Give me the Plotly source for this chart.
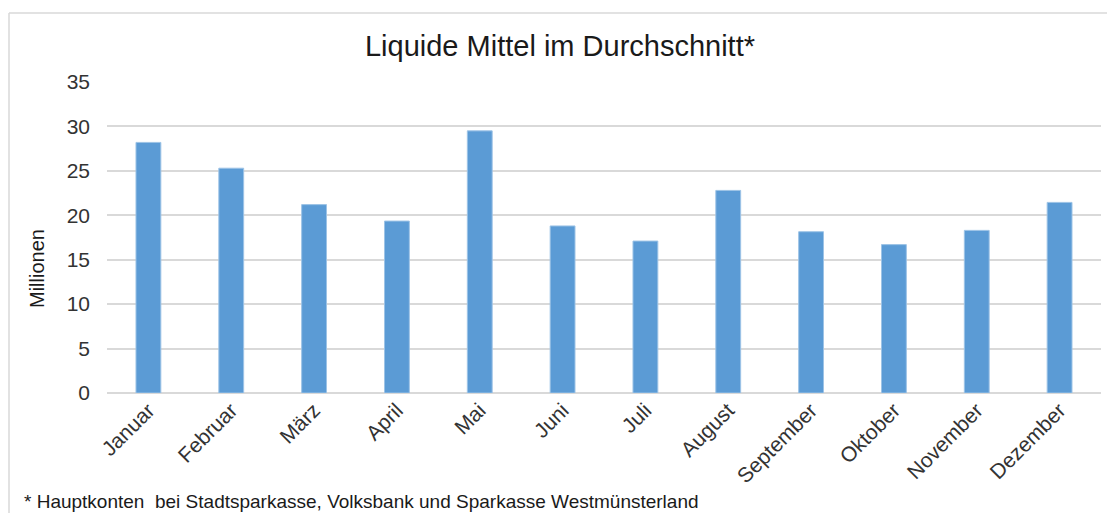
import plotly.graph_objects as go

months = ["Januar", "Februar", "März", "April", "Mai", "Juni", "Juli",
          "August", "September", "Oktober", "November", "Dezember"]
values = [28.2, 25.3, 21.2, 19.35, 29.5, 18.8, 17.1, 22.8, 18.15, 16.7, 18.3, 21.45]
y_ticks = [0, 5, 10, 15, 20, 25, 30, 35]

title_text = "Liquide Mittel im Durchschnitt*"
y_title = "Millionen"
footnote = "* Hauptkonten  bei Stadtsparkasse, Volksbank und Sparkasse Westmünsterland"

FONT = "Liberation Sans, Arial, sans-serif"

fig = go.Figure()
fig.add_trace(go.Bar(
    x=months, y=values,
    marker=dict(color="#5B9BD5", line=dict(color="#9DC3E6", width=1)),
    hoverinfo="x+y",
))

W, H = 1107, 513
L, R, T, B = 107, 6, 82, 120
pw = W - L - R
ph = H - T - B

def px_x(p):
    return (p - L) / pw

def px_y(p):
    return (H - B - p) / ph

fig.update_layout(
    width=W, height=H,
    margin=dict(l=L, r=R, t=T, b=B),
    paper_bgcolor="white", plot_bgcolor="white",
    bargap=0.70,
    showlegend=False,
    font=dict(family=FONT, color="#333333"),
    title=dict(text=title_text, x=560 / W, xanchor="center",
               y=1 - 46 / H, yanchor="middle",
               font=dict(family=FONT, size=29, color="#1a1a1a")),
    xaxis=dict(
        tickangle=-45, tickfont=dict(size=21, color="#333333", family=FONT),
        showgrid=False, showline=False, ticks="",
    ),
    yaxis=dict(
        range=[0, 35], tickvals=y_ticks, showgrid=True, gridcolor="#D9D9D9",
        gridwidth=1.5, zeroline=True, zerolinecolor="#D9D9D9", zerolinewidth=1.5,
        tickfont=dict(size=21, color="#333333", family=FONT), ticks="",
        ticklabelstandoff=16,
    ),
    shapes=[
        dict(type="line", xref="paper", yref="paper",
             x0=px_x(9), x1=px_x(1107), y0=px_y(13), y1=px_y(13),
             line=dict(color="#D9D9D9", width=1.5)),
        dict(type="line", xref="paper", yref="paper",
             x0=px_x(9), x1=px_x(9), y0=px_y(13), y1=px_y(520),
             line=dict(color="#D9D9D9", width=1.5)),
    ],
    annotations=[
        dict(text=y_title, xref="paper", yref="paper",
             x=px_x(37), y=px_y(269), xanchor="center", yanchor="middle",
             textangle=-90, showarrow=False,
             font=dict(size=20, color="#1a1a1a", family=FONT)),
        dict(text=footnote, xref="paper", yref="paper",
             x=px_x(22), y=px_y(501), xanchor="left", yanchor="middle",
             showarrow=False, font=dict(size=19, color="#1a1a1a", family=FONT)),
    ],
)

fig.write_html("out.html", config={"displayModeBar": False},
               post_script="document.body.style.margin='0';document.body.style.overflow='hidden';")
